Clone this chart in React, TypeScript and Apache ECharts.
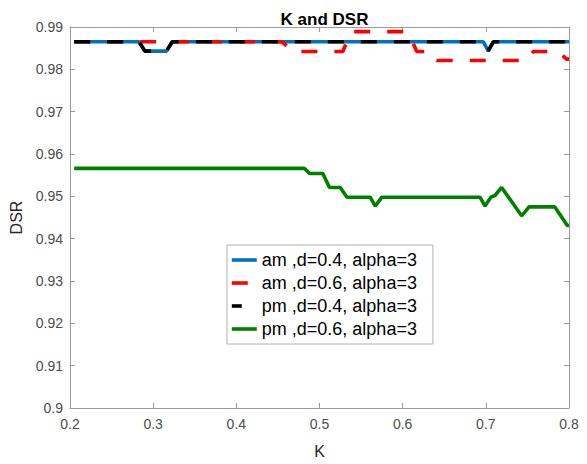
import React, { useEffect, useRef } from "react";
import * as echarts from "echarts";

// ---- data ----
const xTicks = [0.2, 0.3, 0.4, 0.5, 0.6, 0.7, 0.8];
const yTicks = [0.9, 0.91, 0.92, 0.93, 0.94, 0.95, 0.96, 0.97, 0.98, 0.99];

const seriesNames = [
  "am ,d=0.4, alpha=3",
  "am ,d=0.6, alpha=3",
  "pm ,d=0.4, alpha=3",
  "pm ,d=0.6, alpha=3",
];

const amD04K = [0.205, 0.283, 0.29, 0.316, 0.323, 0.697, 0.703, 0.709, 0.8];
const amD04DSR = [0.9865, 0.9865, 0.9843, 0.9843, 0.9865, 0.9865, 0.9843, 0.9865, 0.9865];

const amD06K = [0.205, 0.455, 0.468, 0.528, 0.538, 0.603, 0.608, 0.617, 0.633, 0.641, 0.749, 0.757, 0.787, 0.797, 0.8];
const amD06DSR = [0.9865, 0.9865, 0.9842, 0.9842, 0.9889, 0.9889, 0.9882, 0.9842, 0.9842, 0.9821, 0.9821, 0.9842, 0.9842, 0.9824, 0.9824];

const pmD04K = [0.205, 0.283, 0.29, 0.316, 0.323, 0.697, 0.703, 0.709, 0.8];
const pmD04DSR = [0.9865, 0.9865, 0.9843, 0.9843, 0.9865, 0.9865, 0.9845, 0.9865, 0.9865];

const pmD06K = [0.205, 0.482, 0.488, 0.504, 0.512, 0.525, 0.533, 0.561, 0.567, 0.575, 0.693, 0.699, 0.706, 0.711, 0.719, 0.743, 0.752, 0.783, 0.798, 0.8];
const pmD06DSR = [0.9566, 0.9566, 0.9554, 0.9554, 0.9521, 0.9521, 0.9498, 0.9498, 0.9477, 0.9498, 0.9498, 0.9477, 0.9498, 0.9502, 0.9521, 0.9454, 0.9475, 0.9475, 0.9431, 0.9431];

const colors = ["#0072BD", "#FF0000", "#000000", "#008000"];

const zip = (k: number[], v: number[]) => k.map((x, i) => [x, v[i]]);

export default function App() {
  const ref = useRef<HTMLDivElement>(null);
  useEffect(() => {
    if (!ref.current) return;
    const chart = echarts.init(ref.current, null, { renderer: "svg" });
    const font = "Liberation Sans, Arial, Helvetica, sans-serif";
    const axisColor = "#9a9a9a";
    const labelColor = "#4d4d4d";
    const dash = [16, 17];
    const lw = 3.6;
    const lineSeries = (name: string, data: number[][], color: string, dashed: boolean) => ({
      name,
      type: "line",
      data,
      showSymbol: false,
      symbol: "none",
      lineStyle: { color, width: lw, type: dashed ? dash : "solid", cap: "butt" },
      itemStyle: { color },
    });
    chart.setOption({
      animation: false,
      backgroundColor: "#ffffff",
      textStyle: { fontFamily: font },
      title: {
        text: "K and DSR",
        left: 319.5,
        textAlign: "center",
        top: 6,
        textStyle: { fontFamily: font, fontSize: 17, fontWeight: "bold", color: "#000" },
      },
      grid: { left: 70, right: 18, top: 27, bottom: 44, containLabel: false },
      legend: {
        orient: "vertical",
        left: 227,
        top: 245,
        padding: [6, 16, 6, 3],
        itemWidth: 25,
        itemHeight: 14,
        itemGap: 5,
        backgroundColor: "#ffffff",
        borderColor: "#b0b0b0",
        borderWidth: 1,
        itemStyle: { opacity: 0 },
        lineStyle: { width: lw },
        textStyle: { fontFamily: font, fontSize: 18, color: "#000" },
        data: [
          { name: seriesNames[0], lineStyle: { width: lw } },
          { name: seriesNames[1], lineStyle: { width: lw, type: [16, 20] } },
          { name: seriesNames[2], lineStyle: { width: lw, type: [10, 20] } },
          { name: seriesNames[3], lineStyle: { width: lw } },
        ],
      },
      xAxis: [
        {
          type: "value",
          min: 0.2,
          max: 0.8,
          interval: 0.1,
          name: "K",
          nameLocation: "middle",
          nameGap: 35,
          nameTextStyle: { fontFamily: font, fontSize: 16, color: "#262626" },
          axisLine: { show: true, lineStyle: { color: axisColor, width: 1 } },
          axisTick: { show: true, inside: true, length: 5, lineStyle: { color: axisColor } },
          axisLabel: {
            fontFamily: font,
            fontSize: 14,
            color: labelColor,
            margin: 9,
            formatter: (v: number) => (xTicks.includes(+v.toFixed(2)) ? String(+v.toFixed(2)) : ""),
          },
          splitLine: { show: false },
        },
        {
          type: "value",
          position: "top",
          min: 0.2,
          max: 0.8,
          interval: 0.1,
          axisLine: { show: true, lineStyle: { color: axisColor, width: 1 } },
          axisTick: { show: true, inside: true, length: 5, lineStyle: { color: axisColor } },
          axisLabel: { show: false },
          splitLine: { show: false },
        },
      ],
      yAxis: [
        {
          type: "value",
          min: 0.9,
          max: 0.99,
          interval: 0.01,
          name: "DSR",
          nameLocation: "middle",
          nameGap: 44,
          nameTextStyle: { fontFamily: font, fontSize: 16, color: "#262626" },
          axisLine: { show: true, lineStyle: { color: axisColor, width: 1 } },
          axisTick: { show: true, inside: true, length: 5, lineStyle: { color: axisColor } },
          axisLabel: {
            fontFamily: font,
            fontSize: 14,
            color: labelColor,
            margin: 7,
            formatter: (v: number) => (yTicks.includes(+v.toFixed(2)) ? String(+v.toFixed(2)) : ""),
          },
          splitLine: { show: false },
        },
        {
          type: "value",
          position: "right",
          min: 0.9,
          max: 0.99,
          interval: 0.01,
          axisLine: { show: true, lineStyle: { color: axisColor, width: 1 } },
          axisTick: { show: true, inside: true, length: 5, lineStyle: { color: axisColor } },
          axisLabel: { show: false },
          splitLine: { show: false },
        },
      ],
      series: [
        lineSeries(seriesNames[0], zip(amD04K, amD04DSR), colors[0], false),
        lineSeries(seriesNames[1], zip(amD06K, amD06DSR), colors[1], true),
        lineSeries(seriesNames[2], zip(pmD04K, pmD04DSR), colors[2], true),
        lineSeries(seriesNames[3], zip(pmD06K, pmD06DSR), colors[3], false),
      ],
    });
    return () => chart.dispose();
  }, []);
  return (
    <div
      ref={ref}
      style={{ position: "fixed", left: 0, top: 0, width: 587, height: 464, background: "#fff" }}
    />
  );
}
